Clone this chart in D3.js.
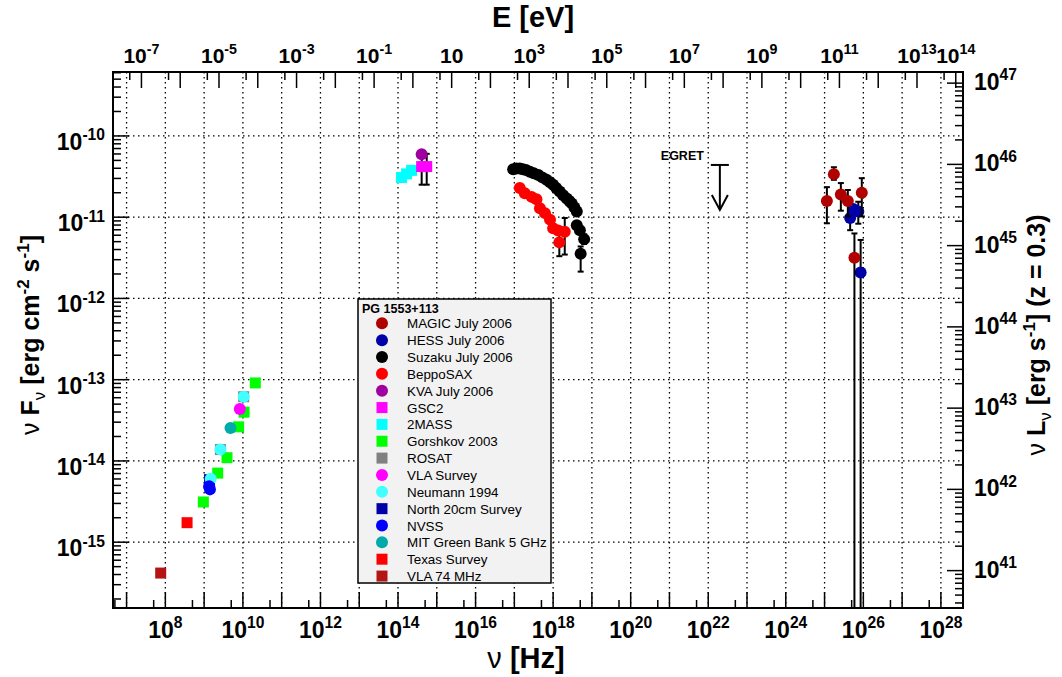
<!DOCTYPE html>
<html>
<head>
<meta charset="utf-8">
<script src="https://cdn.jsdelivr.net/npm/d3@7"></script>
<style>
  body { margin: 0; background: #fff; }
  text { font-family: "Liberation Sans", Arial, Helvetica, sans-serif; fill: #000; }
  .narrow { font-family: "Liberation Sans Narrow", "Liberation Sans", Arial, sans-serif; }
</style>
</head>
<body>
<svg id="chart" width="1062" height="677"></svg>
<script>
////////////////////////////////////////////////////////////////////
////////////////////////////  Data  ////////////////////////////////
// every point: [log10 nu (Hz), log10 nuFnu (erg cm-2 s-1), log10 err low, log10 err high]
const H_EV = 4.1357e-15; // eV s
const LUM_OFFSET = 56.35; // log10(4 pi dL^2) for z = 0.3

const magic = [
  [25.06, -10.80, -11.075, -10.63],
  [25.24, -10.47, -10.54, -10.385],
  [25.42, -10.72, -10.92, -10.58],
  [25.60, -10.80, -10.99, -10.665],
  [25.96, -10.70, -10.99, -10.52],
  [25.77, -11.50, -17, -11.20],
];
const hess = [
  [25.66, -11.01, -11.16, -10.95],
  [25.74, -10.90, -10.96, -10.86],
  [25.87, -10.93, -11.08, -10.81],
  [25.93, -11.68, -17, -11.28],
];
const suzaku = [
  [16.97, -10.41], [17.05, -10.40], [17.14, -10.40], [17.22, -10.41],
  [17.30, -10.42], [17.40, -10.44], [17.50, -10.46], [17.62, -10.48],
  [17.72, -10.51], [17.83, -10.54], [17.92, -10.57], [18.00, -10.60],
  [18.08, -10.64], [18.17, -10.685], [18.26, -10.73], [18.35, -10.77],
  [18.42, -10.80], [18.48, -10.83], [18.55, -10.88], [18.61, -10.93],
  [18.61, -11.10], [18.69, -11.16], [18.80, -11.27, -11.33, -11.21],
  [18.71, -11.45, -11.67, -11.36],
];
const beppo = [
  [17.14, -10.64], [17.27, -10.705], [17.445, -10.75], [17.57, -10.78],
  [17.66, -10.89], [17.79, -10.95], [17.92, -11.03], [18.00, -11.135],
  [18.13, -11.165], [18.30, -11.18, -11.46, -11.01], [18.16, -11.31, -11.48, -11.20],
];
const kva = [[14.61, -10.225]];
const gsc2 = [[14.61, -10.377, -10.60, -10.22], [14.74, -10.377, -10.60, -10.22]];
const twoMass = [[14.09, -10.512], [14.22, -10.467], [14.35, -10.424]];
const gorshkov = [
  [10.32, -13.04], [10.03, -13.40], [9.89, -13.58],
  [9.59, -13.96], [9.35, -14.15], [8.98, -14.505],
];
const rosat = [[10.02, -13.21], [9.42, -13.86]];
const vlaSurvey = [[9.92, -13.36]];
const neumann = [[10.02, -13.21], [9.42, -13.86], [9.17, -14.22]];
const north20 = [[9.14, -14.23]];
const nvss = [[9.13, -14.31], [9.15, -14.35]];
const mitGB = [[9.68, -13.595]];
const texas = [[8.56, -14.76]];
const vla74 = [[7.88, -15.38, -15.42, -15.34]];
const egret = [22.30, -10.357]; // upper limit

// tick exponents
const nuLabelExp = [8, 10, 12, 14, 16, 18, 20, 22, 24, 26, 28];
const nuTickExp = d3.range(6, 29);
const eLabelExp = [-7, -5, -3, -1, 1, 3, 5, 7, 9, 11, 13, 14];
const eTickExp = d3.range(-8, 15);
const fLabelExp = [-15, -14, -13, -12, -11, -10];
const lLabelExp = [41, 42, 43, 44, 45, 46, 47];

////////////////////////////////////////////////////////////////////
////////////////////////////  Init  ////////////////////////////////
const svg = d3.select("#chart");
const frame = { left: 113, right: 963, top: 72, bottom: 608 };
const fs = 23; // tick label size

const x = d3.scaleLog().domain([10 ** 6.65, 10 ** 28.57]).range([frame.left, frame.right]);
const y = d3.scaleLog().domain([10 ** -15.81, 10 ** -9.213]).range([frame.bottom, frame.top]);
const xE = d3.scaleLog().domain(x.domain().map((v) => v * H_EV)).range(x.range());
const yL = d3.scaleLog().domain(y.domain().map((v) => v * 10 ** LUM_OFFSET)).range(y.range());

const px = (d) => x(10 ** d[0]);
const py = (d) => y(10 ** d[1]);

svg.append("clipPath").attr("id", "clip")
  .append("rect")
  .attr("x", frame.left).attr("y", frame.top)
  .attr("width", frame.right - frame.left).attr("height", frame.bottom - frame.top);

// grid
const grid = svg.append("g")
  .attr("stroke", "#000").attr("stroke-width", 1.3).attr("stroke-dasharray", "1.5,3.5");
grid.selectAll(".gx").data(d3.range(7, 29)).enter().append("line")
  .attr("x1", (e) => x(10 ** e)).attr("x2", (e) => x(10 ** e))
  .attr("y1", frame.top).attr("y2", frame.bottom);
grid.selectAll(".gy").data(fLabelExp).enter().append("line")
  .attr("y1", (e) => y(10 ** e)).attr("y2", (e) => y(10 ** e))
  .attr("x1", frame.left).attr("x2", frame.right);

// ticks
const ticks = svg.append("g").attr("stroke", "#000").attr("stroke-width", 1.5);
const major = 16, minor = 8;
// bottom (nu)
nuTickExp.forEach((e) => {
  [[10 ** e, major], [5 * 10 ** e, minor]].forEach(([v, len]) => {
    if (v < x.domain()[0] || v > x.domain()[1]) return;
    ticks.append("line").attr("x1", x(v)).attr("x2", x(v))
      .attr("y1", frame.bottom).attr("y2", frame.bottom - len);
  });
});
// top (E)
eTickExp.forEach((e) => {
  [[10 ** e, major], [5 * 10 ** e, minor]].forEach(([v, len]) => {
    if (v < xE.domain()[0] || v > xE.domain()[1]) return;
    ticks.append("line").attr("x1", xE(v)).attr("x2", xE(v))
      .attr("y1", frame.top).attr("y2", frame.top + len);
  });
});
// left (F) and right (L)
[[y, frame.left, 1], [yL, frame.right, -1]].forEach(([sc, x0, dir]) => {
  const [lo, hi] = sc.domain();
  d3.range(Math.floor(Math.log10(lo)), Math.ceil(Math.log10(hi)) + 1).forEach((e) => {
    d3.range(1, 10).forEach((m) => {
      const v = m * 10 ** e;
      if (v < lo || v > hi) return;
      const len = m === 1 ? major : minor;
      ticks.append("line").attr("y1", sc(v)).attr("y2", sc(v))
        .attr("x1", x0).attr("x2", x0 + dir * len);
    });
  });
});

// frame
svg.append("rect")
  .attr("x", frame.left).attr("y", frame.top)
  .attr("width", frame.right - frame.left).attr("height", frame.bottom - frame.top)
  .attr("fill", "none").attr("stroke", "#000").attr("stroke-width", 2);

// tick labels
const powLabel = (sel, exp, size) => {
  sel.append("tspan").text("10");
  if (exp !== 1) {
    sel.append("tspan").attr("font-size", size * 0.68).attr("dy", -size * 0.42).text(exp);
  }
};
const labels = svg.append("g").attr("class", "narrow").attr("font-weight", "bold");
nuLabelExp.forEach((e) => {
  labels.append("text").attr("x", x(10 ** e)).attr("y", frame.bottom + 30)
    .attr("font-size", fs).attr("text-anchor", "middle").call(powLabel, e, fs);
});
eLabelExp.forEach((e) => {
  labels.append("text").attr("x", xE(10 ** e)).attr("y", frame.top - 9)
    .attr("font-size", 21).attr("text-anchor", "middle").call(powLabel, e, 21);
});
fLabelExp.forEach((e) => {
  labels.append("text").attr("x", frame.left - 8).attr("y", y(10 ** e) + 14)
    .attr("font-size", fs).attr("text-anchor", "end").call(powLabel, e, fs);
});
lLabelExp.forEach((e) => {
  labels.append("text").attr("x", frame.right + 11).attr("y", yL(10 ** e) + 7)
    .attr("font-size", fs).attr("text-anchor", "start").call(powLabel, e, fs);
});

// titles built from parts: [text, baseline shift, size, weight]
const richText = (sel, parts) => {
  let cur = 0;
  parts.forEach(([t, shift, size, weight]) => {
    sel.append("tspan").attr("dy", shift - cur).attr("font-size", size)
      .attr("font-weight", weight).text(t);
    cur = shift;
  });
};
const T = 25, S = 17;
svg.append("text").attr("class", "narrow").attr("x", 533).attr("y", 27).attr("text-anchor", "middle")
  .call(richText, [["E [eV]", 0, 29, "bold"]]);
svg.append("text").attr("class", "narrow").attr("x", 526).attr("y", 668).attr("text-anchor", "middle")
  .call(richText, [["ν ", 0, 29, "normal"], ["[Hz]", 0, 29, "bold"]]);
svg.append("text").attr("transform", "translate(39,335) rotate(-90)").attr("text-anchor", "middle")
  .call(richText, [
    ["ν ", 0, T, "normal"], ["F", 0, T, "bold"], ["ν", 6, S, "normal"],
    [" [erg cm", 0, T, "bold"], ["-2", -10, S, "bold"], [" s", 0, T, "bold"],
    ["-1", -10, S, "bold"], ["]", 0, T, "bold"],
  ]);
svg.append("text").attr("transform", "translate(1045,335) rotate(-90)").attr("text-anchor", "middle")
  .call(richText, [
    ["ν ", 0, T, "normal"], ["L", 0, T, "bold"], ["ν", 6, S, "normal"],
    [" [erg s", 0, T, "bold"], ["-1", -10, S, "bold"], ["] (z = 0.3)", 0, T, "bold"],
  ]);

////////////////////////////////////////////////////////////////////
////////////////////////////  Marks  ///////////////////////////////
const series = [
  { name: "MAGIC July 2006", color: "#b00000", shape: "circle", data: magic },
  { name: "HESS July 2006", color: "#0000a8", shape: "circle", data: hess },
  { name: "Suzaku July 2006", color: "#000000", shape: "circle", data: suzaku },
  { name: "BeppoSAX", color: "#ff0000", shape: "circle", data: beppo },
  { name: "KVA July 2006", color: "#a000a0", shape: "circle", data: kva },
  { name: "GSC2", color: "#ff00ff", shape: "square", data: gsc2 },
  { name: "2MASS", color: "#00ffff", shape: "square", data: twoMass },
  { name: "Gorshkov 2003", color: "#00ff00", shape: "square", data: gorshkov },
  { name: "ROSAT", color: "#808080", shape: "square", data: rosat },
  { name: "VLA Survey", color: "#ff00ff", shape: "circle", data: vlaSurvey },
  { name: "Neumann 1994", color: "#40ffff", shape: "circle", data: neumann },
  { name: "North 20cm Survey", color: "#0000a8", shape: "square", data: north20 },
  { name: "NVSS", color: "#0000ff", shape: "circle", data: nvss },
  { name: "MIT Green Bank 5 GHz", color: "#00aaaa", shape: "circle", data: mitGB },
  { name: "Texas Survey", color: "#ff0000", shape: "square", data: texas },
  { name: "VLA 74 MHz", color: "#b41414", shape: "square", data: vla74 },
];
const drawOrder = [8, 7, 6, 5, 4, 15, 14, 11, 13, 10, 9, 12, 3, 2, 1, 0];
const R = 6, SQ = 11;

const marker = (g, shape, color, cx, cy) => {
  if (shape === "circle") {
    g.append("circle").attr("cx", cx).attr("cy", cy).attr("r", R).attr("fill", color);
  } else {
    g.append("rect").attr("x", cx - SQ / 2).attr("y", cy - SQ / 2)
      .attr("width", SQ).attr("height", SQ).attr("fill", color);
  }
};

const plot = svg.append("g").attr("clip-path", "url(#clip)");
drawOrder.forEach((i) => {
  const s = series[i];
  const g = plot.append("g");
  s.data.filter((d) => d.length > 2).forEach((d) => {
    const cx = px(d), y0 = y(10 ** d[2]), y1 = y(10 ** d[3]);
    g.append("line").attr("x1", cx).attr("x2", cx).attr("y1", y0).attr("y2", y1)
      .attr("stroke", "#000").attr("stroke-width", 2);
    [y0, y1].forEach((yy) => g.append("line")
      .attr("x1", cx - 3).attr("x2", cx + 3).attr("y1", yy).attr("y2", yy)
      .attr("stroke", "#000").attr("stroke-width", 2));
  });
  s.data.forEach((d) => marker(g, s.shape, s.color, px(d), py(d)));
});

// EGRET upper limit
const ex = x(10 ** egret[0]), ey = y(10 ** egret[1]);
const arrow = svg.append("g").attr("stroke", "#000").attr("stroke-width", 2).attr("fill", "none");
arrow.append("line").attr("x1", ex - 9).attr("x2", ex + 9).attr("y1", ey).attr("y2", ey);
arrow.append("line").attr("x1", ex).attr("x2", ex).attr("y1", ey).attr("y2", ey + 45);
arrow.append("polyline")
  .attr("points", [[ex - 8, ey + 30], [ex, ey + 45], [ex + 8, ey + 30]].map((p) => p.join(",")).join(" "));
svg.append("text").attr("x", ex - 16).attr("y", ey - 5).attr("text-anchor", "end")
  .attr("font-size", 12.5).attr("font-weight", "bold").text("EGRET");

////////////////////////////////////////////////////////////////////
////////////////////////////  Legend  //////////////////////////////
const lg = svg.append("g");
lg.append("rect").attr("x", 358).attr("y", 299).attr("width", 193).attr("height", 284)
  .attr("fill", "#f2f2f2").attr("stroke", "#000").attr("stroke-width", 1.5);
lg.append("text").attr("x", 362).attr("y", 313).attr("font-size", 12.5).attr("font-weight", "bold")
  .text("PG 1553+113");
series.forEach((s, i) => {
  const yy = 323.3 + i * 16.85;
  marker(lg, s.shape, s.color, 382, yy);
  lg.append("text").attr("x", 407).attr("y", yy + 5).attr("font-size", 13.4).text(s.name);
});
</script>
</body>
</html>
